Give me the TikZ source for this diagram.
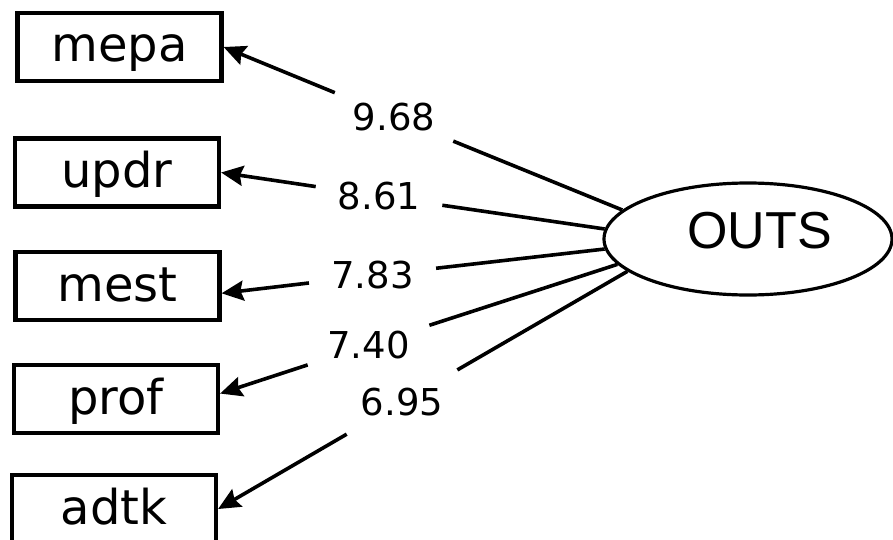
\documentclass[tikz,border=0pt]{standalone}
\usepackage{fontspec}
\setmainfont{DejaVu Sans}
\newfontfamily\outsfont{Liberation Sans}
\usetikzlibrary{arrows.meta,shapes.geometric}

\begin{document}
\begin{tikzpicture}[x=0.5pt,y=-0.5pt,>={Stealth[length=11pt,width=10pt,inset=1.5pt]},
		obs node/.style={rectangle,draw,line width=2.1pt,minimum width=102pt,minimum height=34pt,
			inner ysep=4pt,text height=18pt,text depth=3pt,font=\fontsize{24}{28}\selectfont},
		lat node/.style={ellipse,draw,line width=1.6pt,minimum width=144pt,minimum height=56pt},
		load node/.style={circle,minimum size=64pt,inner sep=0pt,outer sep=0pt,
			font=\fontsize{18.5}{22}\selectfont}]
	\useasboundingbox (0,0) rectangle (893,540);
	%
	% Indicators on the left, the latent factor on the right.
	\node[obs node] (mepa) at (119.5,47) {mepa};
	\node[obs node] (updr) at (117,172.5) {updr};
	\node[obs node] (mest) at (117.5,286) {mest};
	\node[obs node] (prof) at (116,399) {prof};
	\node[obs node] (adtk) at (114,509) {adtk};
	\node[lat node,label={[font=\outsfont\fontsize{26}{30}\selectfont,xshift=5.75pt,yshift=4.25pt]center:OUTS}] (outs) at (748,239) {};
	%
	% Loadings sit in the gaps of the lines.
	\node[load node] (w1) at (394,117) {9.68};
	\node[load node] (w2) at (379,196) {8.61};
	\node[load node] (w3) at (372.5,275.5) {7.83};
	\node[load node] (w4) at (368.5,345) {7.40};
	\node[load node] (w5) at (402,402) {6.95};
	%
	% Lines from OUTS to each indicator.
	\path[line width=1.8pt]
		(outs.167) edge (w1)
		(w1) edge[->] (mepa.east)
		(outs.176) edge (w2)
		(w2) edge[->] (updr.east)
		(outs.184) edge (w3)
		(w3) edge[->] (mest.-4)
		(outs.191) edge (w4)
		(w4) edge[->] (prof.3)
		(outs.195) edge (w5)
		(w5) edge[->] (adtk.east);
\end{tikzpicture}
\end{document}
